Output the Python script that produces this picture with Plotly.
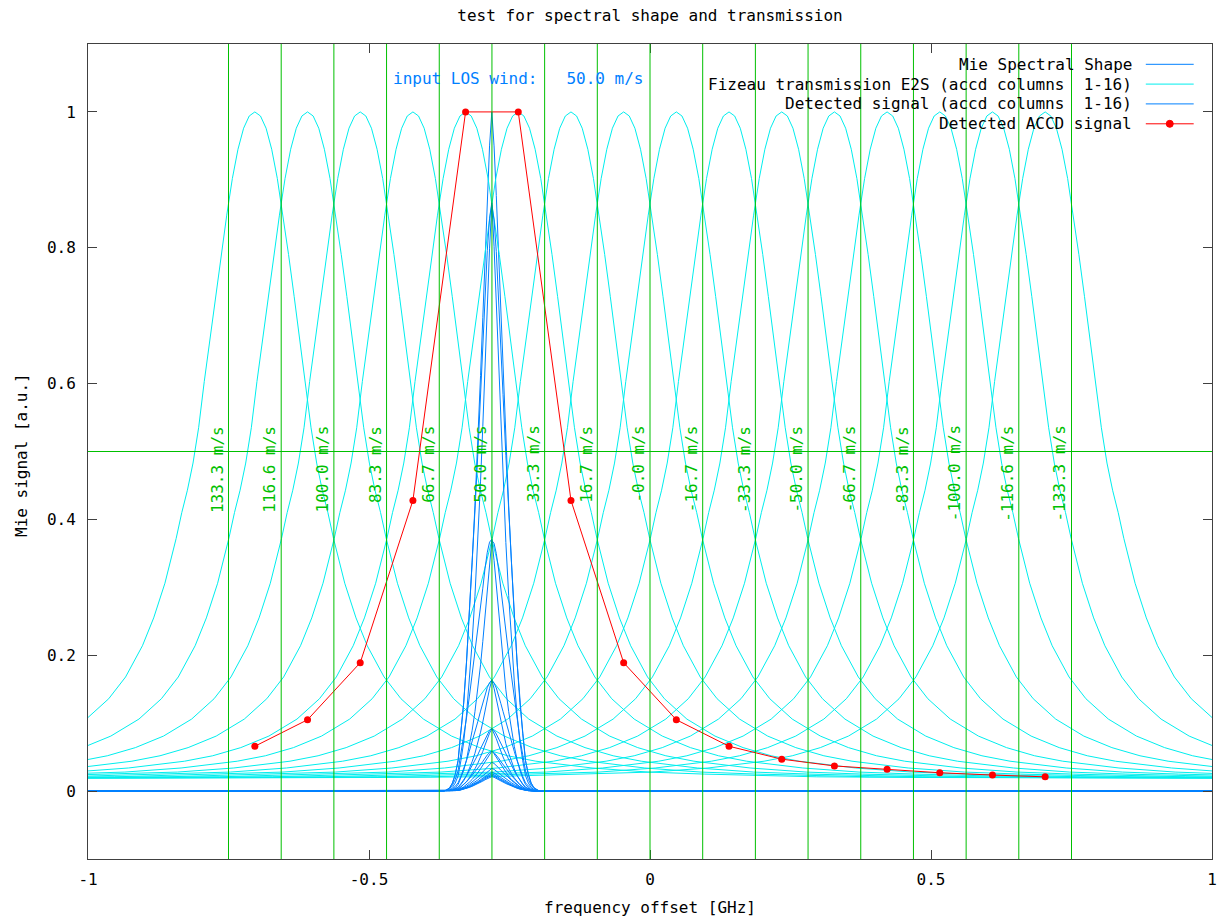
import numpy as np
import plotly.graph_objects as go

# ---------------- data ----------------
# centre frequency (GHz) of each ACCD column (peak of each Fizeau transmission curve)
column_centres = [-0.703125, -0.609375, -0.515625, -0.421875, -0.328125, -0.234375,
                  -0.140625, -0.046875, 0.046875, 0.140625, 0.234375, 0.328125,
                  0.421875, 0.515625, 0.609375, 0.703125]

# column boundaries (green vertical lines) and their wind-speed labels
boundary_freqs = [-0.75, -0.65625, -0.5625, -0.46875, -0.375, -0.28125, -0.1875,
                  -0.09375, 0.0, 0.09375, 0.1875, 0.28125, 0.375, 0.46875, 0.5625,
                  0.65625, 0.75]
boundary_labels = ["133.3 m/s", "116.6 m/s", "100.0 m/s", "83.3 m/s", "66.7 m/s",
                   "50.0 m/s", "33.3 m/s", "16.7 m/s", "-0.0 m/s", "-16.7 m/s",
                   "-33.3 m/s", "-50.0 m/s", "-66.7 m/s", "-83.3 m/s", "-100.0 m/s",
                   "-116.6 m/s", "-133.3 m/s"]
half_level = 0.5

# Fizeau transmission profile: value vs. distance (GHz) from the column centre
fizeau_offset = [0.00, 0.01, 0.02, 0.03, 0.04, 0.05, 0.06, 0.07, 0.08, 0.09, 0.10,
                 0.11, 0.12, 0.13, 0.14, 0.16, 0.18, 0.20, 0.23, 0.26, 0.30, 0.35,
                 0.40, 0.45, 0.50, 0.60, 0.70, 0.80, 0.90, 1.00, 1.20, 1.50, 1.80]
fizeau_value = [1.000, 0.994, 0.976, 0.945, 0.902, 0.848, 0.790, 0.728, 0.665, 0.603,
                0.535, 0.483, 0.443, 0.410, 0.372, 0.306, 0.255, 0.214, 0.168, 0.136,
                0.106, 0.081, 0.064, 0.052, 0.044, 0.034, 0.028, 0.025, 0.023, 0.021,
                0.020, 0.019, 0.019]

# Mie spectral shape: centre (GHz) and value vs. distance (GHz) from the centre
mie_centre = -0.2815
mie_offset = [0.000, 0.004, 0.008, 0.012, 0.016, 0.020, 0.025, 0.030, 0.035, 0.040,
              0.045, 0.050, 0.055, 0.060, 0.065, 0.070, 0.075, 0.080, 0.085, 1.300]
mie_value = [1.000, 0.950, 0.877, 0.790, 0.697, 0.612, 0.510, 0.420, 0.336, 0.260,
             0.190, 0.130, 0.085, 0.045, 0.025, 0.012, 0.005, 0.002, 0.000, 0.000]

# detected (normalised) ACCD signal per column
accd_signal = [0.066, 0.105, 0.189, 0.428, 1.0, 1.0, 0.428, 0.189, 0.105, 0.066,
               0.047, 0.037, 0.032, 0.027, 0.0236, 0.021]

input_wind_text = "input LOS wind:\u00a0\u00a0\u00a050.0 m/s"
legend_names = ["Mie Spectral Shape",
                "Fizeau transmission E2S (accd columns\u00a0\u00a01-16)",
                "Detected signal (accd columns\u00a0\u00a01-16)",
                "Detected ACCD signal"]

# ---------------- styling ----------------
FONT = "DejaVu Sans Mono"
FS = 16
BLUE = "#0080ff"
CYAN = "#00eeee"
GREEN = "#00c000"
RED = "#ff0000"
AXC = "#404040"

fig = go.Figure()

# full symmetric Fizeau profile
prof_d = np.array(fizeau_offset)
prof_v = np.array(fizeau_value)
full_d = np.concatenate([-prof_d[::-1], prof_d[1:]])
full_v = np.concatenate([prof_v[::-1], prof_v[1:]])

md = np.array(mie_offset)
mv = np.array(mie_value)
mie_x = mie_centre + np.concatenate([-md[::-1], md[1:]])
mie_y = np.concatenate([mv[::-1], mv[1:]])

# Mie spectral shape
fig.add_trace(go.Scatter(x=mie_x, y=mie_y, mode="lines",
                         line=dict(color=BLUE, width=1), showlegend=False))

# Fizeau transmissions
for c in column_centres:
    fig.add_trace(go.Scatter(x=c + full_d, y=full_v, mode="lines",
                             line=dict(color=CYAN, width=1), showlegend=False))

# detected signals (Mie shape seen through each column)
for c in column_centres:
    trans = np.interp(np.abs(mie_x - c), prof_d, prof_v)
    fig.add_trace(go.Scatter(x=mie_x, y=mie_y * trans, mode="lines",
                             line=dict(color=BLUE, width=1), showlegend=False))

# detected ACCD signal
fig.add_trace(go.Scatter(x=column_centres, y=accd_signal, mode="lines+markers",
                         line=dict(color=RED, width=1),
                         marker=dict(color=RED, size=7, symbol="circle"),
                         showlegend=False))

shapes = []
annotations = []

# green column boundaries + labels
for f, lab in zip(boundary_freqs, boundary_labels):
    shapes.append(dict(type="line", xref="x", yref="paper", x0=f, x1=f, y0=0, y1=1,
                       line=dict(color=GREEN, width=1), layer="above"))
    annotations.append(dict(x=f, y=0.541, xref="x", yref="y", text=lab,
                            textangle=-90, showarrow=False, xanchor="center",
                            yanchor="top", xshift=-11.6,
                            font=dict(family=FONT, size=FS, color=GREEN)))
shapes.append(dict(type="line", xref="x", yref="y", x0=-1, x1=1,
                   y0=half_level, y1=half_level,
                   line=dict(color=GREEN, width=1), layer="above"))

# input wind text
annotations.append(dict(x=(391 - 88) / 1124, y=(859 - 79) / 815, xref="paper",
                        yref="paper", text=input_wind_text, showarrow=False,
                        xanchor="left", yanchor="middle",
                        font=dict(family=FONT, size=FS, color=BLUE)))

# manual legend (text right-aligned, sample to its right, gnuplot style)
legend_rows_px = [64.3, 84.1, 103.9, 123.8]
legend_colors = [BLUE, CYAN, BLUE, RED]
tx = (1133.6 - 88) / 1124
lx0 = (1145.8 - 88) / 1124
lx1 = (1193.7 - 88) / 1124
for name, ypx, col in zip(legend_names, legend_rows_px, legend_colors):
    yp = (859 - ypx) / 815
    annotations.append(dict(x=tx, y=yp, xref="paper", yref="paper", text=name,
                            showarrow=False, xanchor="right", yanchor="middle",
                            font=dict(family=FONT, size=FS, color="black")))
    shapes.append(dict(type="line", xref="paper", yref="paper", x0=lx0, x1=lx1,
                       y0=yp, y1=yp, line=dict(color=col, width=1)))
    if col == RED:
        shapes.append(dict(type="circle", xref="paper", yref="paper",
                           xsizemode="pixel", ysizemode="pixel",
                           xanchor=(lx0 + lx1) / 2, yanchor=yp,
                           x0=-3.5, x1=3.5, y0=-3.5, y1=3.5,
                           fillcolor=RED, line=dict(color=RED, width=1)))

# axis titles
annotations.append(dict(x=0.5, y=0, xref="paper", yref="paper",
                        text="frequency offset [GHz]", showarrow=False,
                        xanchor="center", yanchor="middle", yshift=-48,
                        font=dict(family=FONT, size=FS, color="black")))
annotations.append(dict(x=0, y=0.5, xref="paper", yref="paper",
                        text="Mie signal [a.u.]", showarrow=False, textangle=-90,
                        xanchor="center", yanchor="middle", xshift=-66.5, yshift=-4,
                        font=dict(family=FONT, size=FS, color="black")))

axis_common = dict(showgrid=False, zeroline=False, showline=True, linecolor=AXC,
                   linewidth=1, mirror="ticks", ticks="inside", ticklen=9,
                   tickcolor=AXC, tickwidth=1,
                   tickfont=dict(family=FONT, size=FS, color="black"))

fig.update_layout(
    width=1230, height=920,
    margin=dict(l=88, r=18, t=44, b=61),
    paper_bgcolor="white", plot_bgcolor="white",
    title=dict(text="test for spectral shape and transmission", x=0.5, xref="paper",
               xanchor="center", y=1 - 15 / 920, yref="container", yanchor="middle",
               font=dict(family=FONT, size=FS, color="black")),
    xaxis=dict(range=[-1, 1], tickvals=[-1, -0.5, 0, 0.5, 1],
               ticktext=["-1", "-0.5", "0", "0.5", "1"], ticklabelstandoff=6,
               **axis_common),
    yaxis=dict(range=[-0.1, 1.1], tickvals=[0, 0.2, 0.4, 0.6, 0.8, 1],
               ticktext=["0", "0.2", "0.4", "0.6", "0.8", "1"], ticklabelstandoff=8,
               **axis_common),
    shapes=shapes, annotations=annotations, showlegend=False,
)

fig.write_html("out.html")
